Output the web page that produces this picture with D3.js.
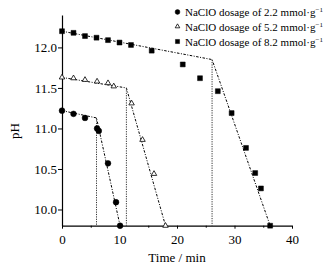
<!DOCTYPE html>
<html lang="en">
<head>
  <meta charset="UTF-8" />
  <title>pH vs time</title>
  <style>
    body { margin: 0; background: #fff; }
    text { font-family: "Liberation Serif", "Times New Roman", serif; fill: #000; }
  </style>
</head>
<body>
  <div id="chart"></div>
  <script src="https://d3js.org/d3.v7.min.js"></script>
  <script>
    // measured points, one list per dosage
    var time1 = [0, 2, 4, 6.1, 6.4, 8, 9.4, 10.1]
    var ph1 = [11.22, 11.18, 11.13, 11.0, 10.97, 10.57, 10.09, 9.8]
    var time2 = [0, 2, 4, 6.1, 8, 9, 12.1, 14, 16, 18]
    var ph2 = [11.63, 11.62, 11.6, 11.58, 11.56, 11.52, 11.31, 10.86, 10.44, 9.8]
    var time3 = [0, 2, 4, 6, 8, 10, 12, 15.6, 21, 24, 27.1, 29.5, 32, 33.6, 34.6, 36.2]
    var ph3 = [12.2, 12.18, 12.14, 12.12, 12.09, 12.06, 12.03, 11.96, 11.79, 11.62, 11.46, 11.19, 10.76, 10.45, 10.26, 9.8]

    // two-segment fit lines (start, break, end)
    var fitTime1 = [0, 6, 10.1], fitPh1 = [11.22, 11.13, 9.8]
    var fitTime2 = [0, 11.2, 18], fitPh2 = [11.63, 11.5, 9.8]
    var fitTime3 = [0, 26.1, 36.2], fitPh3 = [12.2, 11.85, 9.8]

    var legendLabels = ["NaClO dosage of 2.2 mmol\u00b7g", "NaClO dosage of 5.2 mmol\u00b7g", "NaClO dosage of 8.2 mmol\u00b7g"]
    var xTicks = [0, 10, 20, 30, 40]
    var xMinor = [5, 15, 25, 35]
    var yTicks = [10.0, 10.5, 11.0, 11.5, 12.0]

    var W = 332, H = 269
    var mLeft = 62, mRight = 292, mTop = 15, mBottom = 225.7

    var svg = d3.select("#chart").append("svg")
      .attr("width", W).attr("height", H)

    var x = d3.scaleLinear().domain([0, 40]).range([mLeft, mRight])
    var y = d3.scaleLinear().domain([9.8, 12.4]).range([mBottom, mTop])

    // axes
    var gx = svg.append("g")
      .attr("transform", "translate(0," + mBottom + ")")
      .call(d3.axisBottom(x).tickValues(xTicks).tickFormat(d3.format("d")).tickSize(3).tickSizeOuter(0))
    svg.append("g")
      .attr("transform", "translate(0," + mBottom + ")")
      .call(d3.axisBottom(x).tickValues(xMinor).tickFormat("").tickSize(2).tickSizeOuter(0))
      .select(".domain").remove()
    var gy = svg.append("g")
      .attr("transform", "translate(" + mLeft + ",0)")
      .call(d3.axisLeft(y).tickValues(yTicks).tickFormat(d3.format(".1f")).tickSize(4).tickSizeOuter(0))

    svg.selectAll(".domain").attr("stroke", "#000").attr("stroke-width", 1.2)
    svg.selectAll(".tick line").attr("stroke", "#000")
    gx.selectAll("text").style("font-size", "13px").attr("dy", "0.95em")
    gy.selectAll("text").style("font-size", "13px").attr("x", -5)

    svg.append("text")
      .attr("x", (mLeft + mRight) / 2).attr("y", 262)
      .attr("text-anchor", "middle").style("font-size", "13px")
      .text("Time / min")
    svg.append("text")
      .attr("transform", "translate(19,131) rotate(-90)")
      .attr("text-anchor", "middle").style("font-size", "13px")
      .text("pH")

    var line = d3.line().x(function (d) { return x(d[0]) }).y(function (d) { return y(d[1]) })
    var fits = [[fitTime1, fitPh1], [fitTime2, fitPh2], [fitTime3, fitPh3]]

    fits.forEach(function (f) {
      var pts = f[0].map(function (t, i) { return [t, f[1][i]] })
      svg.append("path")
        .attr("d", line(pts))
        .attr("fill", "none").attr("stroke", "#000").attr("stroke-width", 1)
        .attr("stroke-dasharray", "2.5,1.5,1,1.5")
      // vertical line from the break point down to the axis
      svg.append("line")
        .attr("x1", x(f[0][1])).attr("x2", x(f[0][1]))
        .attr("y1", y(f[1][1])).attr("y2", mBottom)
        .attr("stroke", "#333").attr("stroke-width", 1)
        .attr("stroke-dasharray", "1.2,1.2")
    })

    var sym = [d3.symbolCircle, d3.symbolTriangle, d3.symbolSquare]
    var size = [26, 13, 24]
    var series = [[time1, ph1], [time2, ph2], [time3, ph3]]

    series.forEach(function (s, k) {
      var pts = s[0].map(function (t, i) { return [t, s[1][i]] })
      svg.append("g").selectAll("path")
        .data(pts).enter().append("path")
        .attr("d", d3.symbol().type(sym[k]).size(size[k]))
        .attr("transform", function (d) { return "translate(" + x(d[0]) + "," + y(d[1]) + ")" })
        .attr("fill", k == 1 ? "#fff" : "#000")
        .attr("stroke", "#000").attr("stroke-width", k == 1 ? 0.8 : 0.5)
    })

    // legend
    var legendY = [12.5, 27, 42]
    legendLabels.forEach(function (lab, k) {
      svg.append("path")
        .attr("d", d3.symbol().type(sym[k]).size(size[k] * 0.7))
        .attr("transform", "translate(177.5," + (legendY[k] - 0.5) + ")")
        .attr("fill", k == 1 ? "#fff" : "#000")
        .attr("stroke", "#000").attr("stroke-width", k == 1 ? 0.8 : 0.5)
      var t = svg.append("text")
        .attr("x", 185).attr("y", legendY[k] + 3.5)
        .style("font-size", "11px")
        .text(lab)
      t.append("tspan").attr("dy", -4).style("font-size", "7px").text("\u22121")
    })
  </script>
</body>
</html>
